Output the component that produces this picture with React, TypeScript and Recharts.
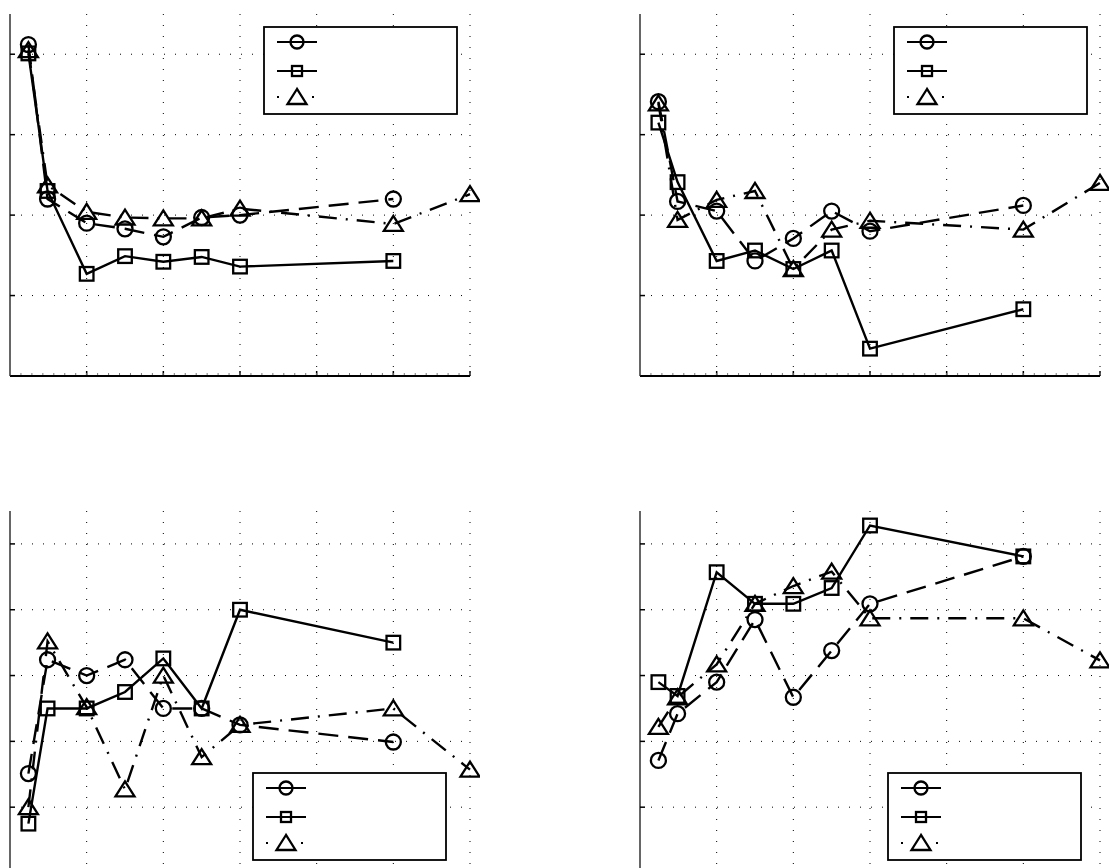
import React from 'react';
import { LineChart, Line, XAxis, YAxis, CartesianGrid, Legend } from 'recharts';

// ---------- data ----------
const xValues = [2.4, 4.9, 10, 15, 20, 25, 30, 50, 60];
const xTicks = [0, 10, 20, 30, 40, 50, 60];
const topYTicks = [0, 1, 2, 3, 4];
const bottomYTicks = [0, 1, 2, 3, 4, 5];
const seriesKeys = ['circle', 'square', 'triangle'];

const topLeftCircle = [4.12, 2.2, 1.9, 1.83, 1.73, 1.97, 2.0, 2.2, null];
const topLeftSquare = [4.01, 2.3, 1.27, 1.49, 1.42, 1.48, 1.36, 1.43, null];
const topLeftTriangle = [4.05, 2.37, 2.04, 1.97, 1.96, 1.96, 2.08, 1.89, 2.26];

const topRightCircle = [3.41, 2.17, 2.05, 1.43, 1.71, 2.05, 1.8, 2.12, null];
const topRightSquare = [3.15, 2.41, 1.43, 1.56, 1.33, 1.56, 0.34, 0.83, null];
const topRightTriangle = [3.39, 1.94, 2.19, 2.3, 1.33, 1.82, 1.93, 1.82, 2.4];

const bottomLeftCircle = [1.51, 3.24, 3.0, 3.24, 2.5, 2.5, 2.25, 1.99, null];
const bottomLeftSquare = [0.75, 2.5, 2.5, 2.75, 3.26, 2.5, 4.0, 3.5, null];
const bottomLeftTriangle = [1.0, 3.52, 2.52, 1.27, 3.0, 1.76, 2.25, 2.5, 1.57];

const bottomRightCircle = [1.71, 2.42, 2.9, 3.85, 2.67, 3.38, 4.09, 4.81, null];
const bottomRightSquare = [2.9, 2.69, 4.57, 4.09, 4.09, 4.33, 5.28, 4.81, null];
const bottomRightTriangle = [2.22, 2.67, 3.17, 4.09, 4.36, 4.58, 3.87, 3.87, 3.23];

// minor tick positions (axis decoration only)
const xMinorTicks = Array.from({ length: 43 }, (_, i) => (i * 10) / 7);
const topYMinorTicks = Array.from({ length: 32 }, (_, i) => i / 7);
const bottomYMinorTicks = Array.from({ length: 34 }, (_, i) => i / 6);

const buildRows = (c: (number | null)[], s: (number | null)[], t: (number | null)[]) =>
  xValues.map((x, i) => ({ x, circle: c[i], square: s[i], triangle: t[i] }));

// ---------- styles ----------
const LINE_W = 2.4;
const MARK_W = 2.3;
const seriesStyle: Record<string, { dash?: string }> = {
  circle: { dash: '20 10' },
  square: {},
  triangle: { dash: '18 9 2 9' },
};

const EmptyTick = () => <g />;

function MarkerShape({ shape, cx, cy, legend }: { shape: string; cx: number; cy: number; legend?: boolean }) {
  if (shape === 'circle') {
    const r = legend ? 6.5 : 7.5;
    return <circle cx={cx} cy={cy} r={r} fill="none" stroke="#000" strokeWidth={MARK_W} />;
  }
  if (shape === 'square') {
    const h = legend ? 5 : 6.8;
    return <rect x={cx - h} y={cy - h} width={2 * h} height={2 * h} fill="none" stroke="#000" strokeWidth={MARK_W} />;
  }
  const hw = 9.5;
  return (
    <polygon
      points={`${cx},${cy - 8} ${cx - hw},${cy + 7} ${cx + hw},${cy + 7}`}
      fill="none"
      stroke="#000"
      strokeWidth={MARK_W}
      strokeLinejoin="miter"
    />
  );
}

const makeDot = (shape: string) => (props: any) => {
  const { cx, cy, index, value } = props;
  const key = `${shape}-${index}`;
  if (!Number.isFinite(cx) || !Number.isFinite(cy) || value == null) return <g key={key} />;
  return (
    <g key={key}>
      <MarkerShape shape={shape} cx={cx} cy={cy} />
    </g>
  );
};

const LegendBox = () => {
  const rows = [16, 45, 71];
  return (
    <svg width={195} height={89} style={{ display: 'block' }}>
      <rect x={1} y={1} width={193} height={87} fill="#fff" stroke="#000" strokeWidth={1.8} />
      {seriesKeys.map((k, i) => (
        <g key={k}>
          <line
            x1={14}
            x2={54}
            y1={rows[i]}
            y2={rows[i]}
            stroke="#000"
            strokeWidth={2}
            strokeDasharray={k === 'triangle' ? '2 33' : undefined}
          />
          <MarkerShape shape={k} cx={34} cy={rows[i]} legend />
        </g>
      ))}
    </svg>
  );
};

type PanelProps = {
  left: number;
  top: number;
  rows: any[];
  yMax: number;
  yTicks: number[];
  yMinor: number[];
  legendLeft: number;
  legendTop: number;
};

function Panel({ left, top, rows, yMax, yTicks, yMinor, legendLeft, legendTop }: PanelProps) {
  return (
    <div style={{ position: 'absolute', left, top }}>
      <LineChart width={480} height={390} data={rows} margin={{ top: 14, right: 10, bottom: 14, left: 10 }}>
        <CartesianGrid stroke="#000" strokeDasharray="1 10" strokeWidth={1} syncWithTicks />
        <XAxis
          dataKey="x"
          type="number"
          domain={[0, 60]}
          ticks={xTicks}
          interval={0}
          height={1}
          mirror
          tickSize={5}
          tick={EmptyTick}
          axisLine={{ stroke: '#000', strokeWidth: 2 }}
          tickLine={{ stroke: '#000', strokeWidth: 1.5 }}
        />
        <XAxis
          xAxisId="minor"
          dataKey="x"
          type="number"
          domain={[0, 60]}
          ticks={xMinorTicks}
          interval={0}
          height={1}
          mirror
          tickSize={2}
          tick={EmptyTick}
          axisLine={false}
          tickLine={{ stroke: '#777', strokeWidth: 1 }}
        />
        <YAxis
          type="number"
          domain={[0, yMax]}
          ticks={yTicks}
          interval={0}
          width={1}
          mirror
          tickSize={5}
          tick={EmptyTick}
          axisLine={{ stroke: '#666', strokeWidth: 2 }}
          tickLine={{ stroke: '#000', strokeWidth: 1.5 }}
        />
        <YAxis
          yAxisId="minor"
          type="number"
          domain={[0, yMax]}
          ticks={yMinor}
          interval={0}
          width={1}
          mirror
          tickSize={2}
          tick={EmptyTick}
          axisLine={false}
          tickLine={{ stroke: '#777', strokeWidth: 1 }}
        />
        <Legend
          layout="vertical"
          align="center"
          verticalAlign="middle"
          wrapperStyle={{ left: legendLeft, top: legendTop, width: 195, height: 89 }}
          content={LegendBox}
        />
        {seriesKeys.map((k) => (
          <Line
            key={k}
            dataKey={k}
            type="linear"
            stroke="#000"
            strokeWidth={LINE_W}
            strokeDasharray={seriesStyle[k].dash}
            dot={makeDot(k)}
            activeDot={false}
            isAnimationActive={false}
          />
        ))}
      </LineChart>
    </div>
  );
}

export default function App() {
  return (
    <div
      style={{
        position: 'absolute',
        left: 0,
        top: 0,
        width: 1109,
        height: 868,
        overflow: 'hidden',
        background: '#fff',
      }}
    >
      <Panel
        left={0}
        top={0}
        rows={buildRows(topLeftCircle, topLeftSquare, topLeftTriangle)}
        yMax={4.5}
        yTicks={topYTicks}
        yMinor={topYMinorTicks}
        legendLeft={263}
        legendTop={26}
      />
      <Panel
        left={630}
        top={0}
        rows={buildRows(topRightCircle, topRightSquare, topRightTriangle)}
        yMax={4.5}
        yTicks={topYTicks}
        yMinor={topYMinorTicks}
        legendLeft={263}
        legendTop={26}
      />
      <Panel
        left={0}
        top={497}
        rows={buildRows(bottomLeftCircle, bottomLeftSquare, bottomLeftTriangle)}
        yMax={5.5}
        yTicks={bottomYTicks}
        yMinor={bottomYMinorTicks}
        legendLeft={252}
        legendTop={275}
      />
      <Panel
        left={630}
        top={497}
        rows={buildRows(bottomRightCircle, bottomRightSquare, bottomRightTriangle)}
        yMax={5.5}
        yTicks={bottomYTicks}
        yMinor={bottomYMinorTicks}
        legendLeft={257}
        legendTop={275}
      />
    </div>
  );
}
